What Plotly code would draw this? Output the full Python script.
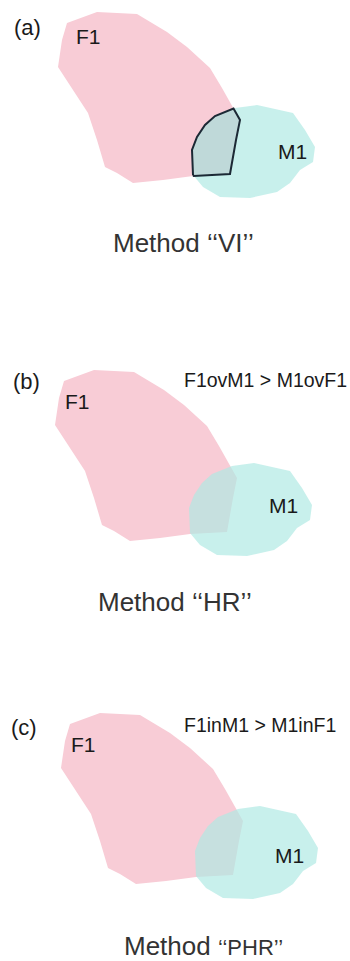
import plotly.graph_objects as go

# Outline vertices of the two ranges, in the frame of panel (a) (pixels, y down)
f1_x = [67, 97, 137, 167, 187, 210, 222, 232, 240, 236, 230, 193, 163, 133, 117, 105, 97, 88, 73, 58, 62]
f1_y = [23, 12, 14, 32, 47, 68, 88, 106, 120, 140, 174, 176, 180, 183, 173, 167, 140, 113, 90, 67, 40]
m1_x = [215, 235, 257, 293, 305, 315, 313, 300, 290, 277, 250, 220, 203, 193, 192, 197, 205]
m1_y = [116, 108, 105, 113, 130, 147, 162, 170, 183, 192, 198, 197, 187, 175, 150, 137, 125]

# Panels: letter, shift of the shapes, method name, comparison caption
panel_letters = ["(a)", "(b)", "(c)"]
shift_x = [0, -3, 3]
shift_y = [0, 358, 701]
methods = ["VI", "HR", "PHR"]
comparisons = ["", "F1ovM1 > M1ovF1", "F1inM1 > M1inF1"]

# Label anchor points per panel
letter_pos = [(27, 27), (26, 381), (24, 727)]
f1_label_pos = [(88, 36), (77, 401), (83, 744)]
m1_label_pos = [(292, 151), (283, 505), (289, 855)]
comparison_pos = [None, (182, 380), (182, 725)]
method_pos = [(183, 243), (175, 602), (203, 946)]

PINK = "rgb(248,204,214)"
CYAN = "rgba(174,233,227,0.68)"
EDGE = "#1c2935"
FONT = "Liberation Sans, Arial, sans-serif"


def clip(subject, clipper):
    """Sutherland-Hodgman clipping of a polygon by another polygon."""
    pairs = list(zip(clipper, clipper[1:] + clipper[:1]))
    area = sum(x1 * y2 - x2 * y1 for (x1, y1), (x2, y2) in pairs)
    s = 1 if area > 0 else -1
    out = list(subject)
    for (ax, ay), (bx, by) in pairs:
        inp, out = out, []
        if not inp:
            break

        def side(p):
            return s * ((bx - ax) * (p[1] - ay) - (by - ay) * (p[0] - ax))

        def inter(p, q):
            sp, sq = side(p), side(q)
            t = sp / (sp - sq)
            return (p[0] + t * (q[0] - p[0]), p[1] + t * (q[1] - p[1]))

        prev = inp[-1]
        for cur in inp:
            if side(cur) >= 0:
                if side(prev) < 0:
                    out.append(inter(prev, cur))
                out.append(cur)
            elif side(prev) >= 0:
                out.append(inter(prev, cur))
            prev = cur
    return out


def closed(xs, ys, dx, dy):
    return [x + dx for x in xs] + [xs[0] + dx], [y + dy for y in ys] + [ys[0] + dy]


fig = go.Figure()
annotations = []

for i in range(3):
    dx, dy = shift_x[i], shift_y[i]
    fx, fy = closed(f1_x, f1_y, dx, dy)
    mx, my = closed(m1_x, m1_y, dx, dy)
    fig.add_trace(go.Scatter(x=fx, y=fy, mode="lines", fill="toself",
                             fillcolor=PINK, line=dict(width=0), hoverinfo="skip"))
    fig.add_trace(go.Scatter(x=mx, y=my, mode="lines", fill="toself",
                             fillcolor=CYAN, line=dict(width=0), hoverinfo="skip"))
    if methods[i] == "VI":
        # volume of intersection: outline the shared area
        f1_pts = list(zip(fx[:-1], fy[:-1]))
        m1_pts = list(zip(mx[:-1], my[:-1]))
        ov = clip(f1_pts, m1_pts)
        ox = [p[0] for p in ov] + [ov[0][0]]
        oy = [p[1] for p in ov] + [ov[0][1]]
        fig.add_trace(go.Scatter(x=ox, y=oy, mode="lines", fill="toself",
                                 fillcolor="rgba(120,140,150,0.08)",
                                 line=dict(color=EDGE, width=2), hoverinfo="skip"))

    lx, ly = letter_pos[i]
    annotations.append(dict(x=lx, y=ly, text=panel_letters[i], showarrow=False,
                            font=dict(family=FONT, size=22, color="#1a1a1a")))
    annotations.append(dict(x=f1_label_pos[i][0], y=f1_label_pos[i][1], text="F1",
                            showarrow=False, font=dict(family=FONT, size=21, color="#1a1a1a")))
    annotations.append(dict(x=m1_label_pos[i][0], y=m1_label_pos[i][1], text="M1",
                            showarrow=False, font=dict(family=FONT, size=21, color="#1a1a1a")))
    if comparisons[i]:
        cx, cy = comparison_pos[i]
        annotations.append(dict(x=cx, y=cy, text=comparisons[i], showarrow=False,
                                xanchor="left",
                                font=dict(family=FONT, size=19.5, color="#1a1a1a")))
    name = methods[i]
    if name == "PHR":
        label = "Method <span style='font-size:22px'>\u2018\u2018" + name + "\u2019\u2019</span>"
    else:
        label = "Method \u2018\u2018" + name + "\u2019\u2019"
    annotations.append(dict(x=method_pos[i][0], y=method_pos[i][1], text=label,
                            showarrow=False, borderpad=0,
                            font=dict(family=FONT, size=26, color="#333333")))

fig.update_layout(
    width=350, height=961,
    margin=dict(l=0, r=0, t=0, b=0),
    paper_bgcolor="white", plot_bgcolor="white",
    showlegend=False,
    annotations=annotations,
    xaxis=dict(range=[0, 350], visible=False, fixedrange=True),
    yaxis=dict(range=[961, 0], visible=False, fixedrange=True),
)

fig.write_html("out.html", config={"displayModeBar": False})
